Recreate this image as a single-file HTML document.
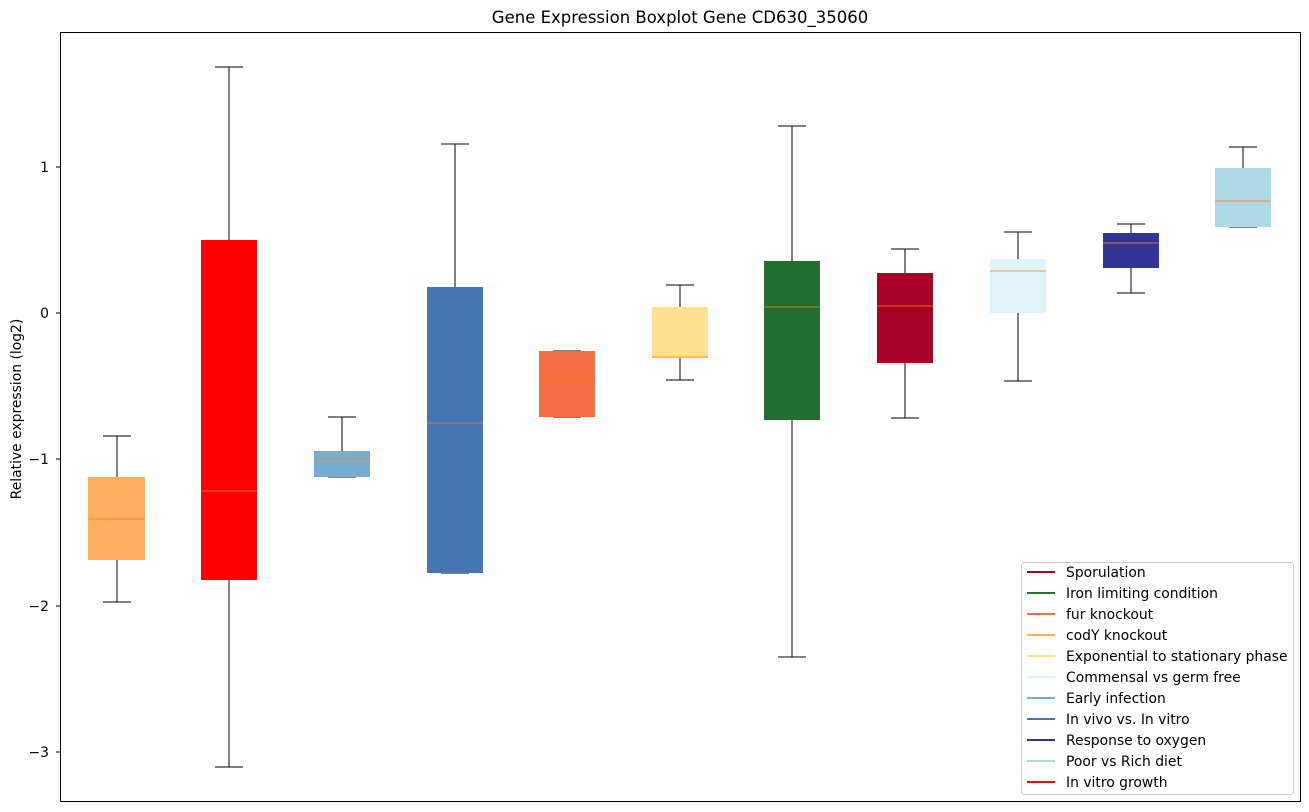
<!DOCTYPE html>
<html><head><meta charset="utf-8"><style>
body{margin:0;background:#fff}
svg{display:block;font-family:"DejaVu Sans","Liberation Sans",sans-serif}
</style></head><body>
<svg width="1309" height="812" viewBox="0 0 1309 812" xmlns="http://www.w3.org/2000/svg">
<rect width="1309" height="812" fill="#fff"/>
<text x="680" y="23" font-size="16.5" text-anchor="middle" fill="#000">Gene Expression Boxplot Gene CD630_35060</text>
<g stroke="#000" stroke-width="1" fill="none">
<line x1="117" y1="436" x2="117" y2="477"/><line x1="117" y1="560" x2="117" y2="602"/><line x1="103" y1="436" x2="131" y2="436"/><line x1="103" y1="602" x2="131" y2="602"/>
<line x1="229" y1="67" x2="229" y2="240"/><line x1="229" y1="580" x2="229" y2="767"/><line x1="215" y1="67" x2="243" y2="67"/><line x1="215" y1="767" x2="243" y2="767"/>
<line x1="342" y1="417" x2="342" y2="451"/><line x1="328" y1="417" x2="356" y2="417"/><line x1="328" y1="477" x2="356" y2="477"/>
<line x1="455" y1="144" x2="455" y2="287"/><line x1="441" y1="144" x2="469" y2="144"/><line x1="441" y1="573" x2="469" y2="573"/>
<line x1="553" y1="351" x2="581" y2="351"/><line x1="553" y1="417" x2="581" y2="417"/>
<line x1="680" y1="285" x2="680" y2="307"/><line x1="680" y1="358" x2="680" y2="380"/><line x1="666" y1="285" x2="694" y2="285"/><line x1="666" y1="380" x2="694" y2="380"/>
<line x1="792" y1="126" x2="792" y2="261"/><line x1="792" y1="420" x2="792" y2="657"/><line x1="778" y1="126" x2="806" y2="126"/><line x1="778" y1="657" x2="806" y2="657"/>
<line x1="905" y1="249" x2="905" y2="273"/><line x1="905" y1="363" x2="905" y2="418"/><line x1="891" y1="249" x2="919" y2="249"/><line x1="891" y1="418" x2="919" y2="418"/>
<line x1="1018" y1="232" x2="1018" y2="259"/><line x1="1018" y1="313" x2="1018" y2="381"/><line x1="1004" y1="232" x2="1032" y2="232"/><line x1="1004" y1="381" x2="1032" y2="381"/>
<line x1="1131" y1="224" x2="1131" y2="233"/><line x1="1131" y1="268" x2="1131" y2="293"/><line x1="1117" y1="224" x2="1145" y2="224"/><line x1="1117" y1="293" x2="1145" y2="293"/>
<line x1="1243" y1="147" x2="1243" y2="168"/><line x1="1229" y1="147" x2="1257" y2="147"/><line x1="1229" y1="227" x2="1257" y2="227"/>
</g>
<rect x="88" y="477" width="57" height="83" fill="#fdae61"/>
<rect x="201" y="240" width="56" height="340" fill="#ff0000"/>
<rect x="314" y="451" width="56" height="26" fill="#74add1"/>
<rect x="427" y="287" width="56" height="286" fill="#4575b4"/>
<rect x="539" y="351" width="56" height="66" fill="#f46d43"/>
<rect x="652" y="307" width="56" height="51" fill="#fee090"/>
<rect x="764" y="261" width="56" height="159" fill="#226e2e"/>
<rect x="877" y="273" width="56" height="90" fill="#a50026"/>
<rect x="990" y="259" width="56" height="54" fill="#e0f3f8"/>
<rect x="1103" y="233" width="56" height="35" fill="#313695"/>
<rect x="1215" y="168" width="56" height="59" fill="#add8e6"/>
<g stroke="#ff7f0e" stroke-width="1" stroke-opacity="0.8">
<line x1="88" y1="519" x2="145" y2="519"/><line x1="201" y1="491" x2="257" y2="491"/><line x1="314" y1="459" x2="370" y2="459"/>
<line x1="427" y1="423" x2="483" y2="423"/><line x1="539" y1="381" x2="595" y2="381"/><line x1="652" y1="357" x2="708" y2="357"/>
<line x1="764" y1="307" x2="820" y2="307"/><line x1="877" y1="306" x2="933" y2="306"/><line x1="990" y1="271" x2="1046" y2="271"/>
<line x1="1103" y1="243" x2="1159" y2="243"/><line x1="1215" y1="201" x2="1271" y2="201"/>
</g>
<rect x="60.5" y="32.5" width="1240" height="769" fill="none" stroke="#000"/>
<g stroke="#000"><line x1="56" y1="167" x2="60" y2="167"/><line x1="56" y1="313" x2="60" y2="313"/><line x1="56" y1="459" x2="60" y2="459"/><line x1="56" y1="606" x2="60" y2="606"/><line x1="56" y1="752" x2="60" y2="752"/></g>
<g font-size="13.9" text-anchor="end" fill="#000">
<text x="49" y="172">1</text><text x="49" y="318">0</text><text x="49" y="464">−1</text><text x="49" y="611">−2</text><text x="49" y="757">−3</text>
</g>
<text transform="translate(21,409) rotate(-90)" font-size="13.9" text-anchor="middle">Relative expression (log2)</text>
<rect x="1021.5" y="562.5" width="272" height="232" rx="3" fill="#fff" stroke="#ccc"/>
<g font-size="13.9" fill="#000" stroke-width="2">
<line x1="1027" y1="572" x2="1055" y2="572" stroke="#a50026"/><text x="1066" y="577">Sporulation</text>
<line x1="1027" y1="593" x2="1055" y2="593" stroke="#226e2e"/><text x="1066" y="598">Iron limiting condition</text>
<line x1="1027" y1="614" x2="1055" y2="614" stroke="#f46d43"/><text x="1066" y="619">fur knockout</text>
<line x1="1027" y1="635" x2="1055" y2="635" stroke="#fdae61"/><text x="1066" y="640">codY knockout</text>
<line x1="1027" y1="656" x2="1055" y2="656" stroke="#fee090"/><text x="1066" y="661">Exponential to stationary phase</text>
<line x1="1027" y1="677" x2="1055" y2="677" stroke="#e0f3f8"/><text x="1066" y="682">Commensal vs germ free</text>
<line x1="1027" y1="698" x2="1055" y2="698" stroke="#74add1"/><text x="1066" y="703">Early infection</text>
<line x1="1027" y1="719" x2="1055" y2="719" stroke="#4575b4"/><text x="1066" y="724">In vivo vs. In vitro</text>
<line x1="1027" y1="740" x2="1055" y2="740" stroke="#313695"/><text x="1066" y="745">Response to oxygen</text>
<line x1="1027" y1="761" x2="1055" y2="761" stroke="#add8e6"/><text x="1066" y="766">Poor vs Rich diet</text>
<line x1="1027" y1="782" x2="1055" y2="782" stroke="#ff0000"/><text x="1066" y="787">In vitro growth</text>
</g>
</svg>
</body></html>
